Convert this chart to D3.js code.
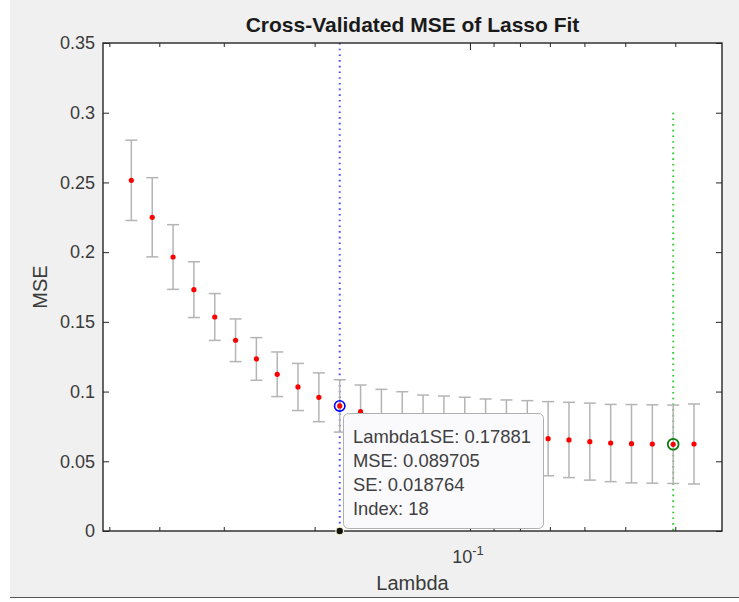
<!DOCTYPE html>
<html>
<head>
<meta charset="utf-8">
<script src="https://cdn.jsdelivr.net/npm/d3@7"></script>
<style>
  body { margin: 0; background: #fff; }
  svg { display: block; font-family: "Liberation Sans", Arial, sans-serif; }
</style>
</head>
<body>
<svg id="chart" width="739" height="602"></svg>
<script>
// lambda values, index 1..28 (ascending)
const lambdas = [0.03679, 0.04037, 0.04431, 0.04863, 0.05337, 0.05857, 0.06428, 0.07055,
  0.07742, 0.08497, 0.09325, 0.10234, 0.11231, 0.12326, 0.13527, 0.14846, 0.16293, 0.17881,
  0.19627, 0.21544, 0.23634, 0.25938, 0.28464, 0.31235, 0.34281, 0.37622, 0.41286, 0.45320];
const mse = [0.0624, 0.0622, 0.0624, 0.0626, 0.0631, 0.0641, 0.0653, 0.0662,
  0.0673, 0.0686, 0.0700, 0.0718, 0.0740, 0.0762, 0.0790, 0.0820, 0.0856, 0.089705,
  0.0959, 0.1033, 0.1124, 0.1234, 0.1368, 0.1535, 0.1731, 0.1965, 0.2250, 0.2515];
const se = [0.0287, 0.0281, 0.0281, 0.0281, 0.0277, 0.0276, 0.0270, 0.0266,
  0.0262, 0.0254, 0.0247, 0.0241, 0.0228, 0.0213, 0.0209, 0.0196, 0.0191, 0.018764,
  0.0175, 0.0169, 0.0160, 0.0153, 0.0153, 0.0168, 0.0200, 0.0232, 0.0284, 0.0288];

const idx1SE = 18;
const idxMin = 2;
const yTicks = [0, 0.05, 0.1, 0.15, 0.2, 0.25, 0.3, 0.35];
const xMinorTicks = [0.04, 0.05, 0.06, 0.07, 0.08, 0.09, 0.2, 0.3, 0.4, 0.5];
const xMajorTicks = [0.1];
const tipLines = ["Lambda1SE: 0.17881", "MSE: 0.089705", "SE: 0.018764", "Index: 18"];

const svg = d3.select("#chart");
const W = 739, H = 602;
const m = {left: 103, right: 722, top: 43, bottom: 531};
const axCol = "#262626";
const txtCol = "#3a3a3a";

// figure background
svg.append("rect").attr("x", 10).attr("y", 0).attr("width", W - 10).attr("height", 597)
  .attr("fill", "#f0f0f0");
svg.append("line").attr("x1", 10).attr("x2", W).attr("y1", 597.5).attr("y2", 597.5)
  .attr("stroke", "#555").attr("stroke-width", 1.2);

const x = d3.scaleLog().domain([0.5143, 0.03247]).range([m.left, m.right]);
const y = d3.scaleLinear().domain([0, 0.35]).range([m.bottom, m.top]);

svg.append("rect").attr("x", m.left).attr("y", m.top)
  .attr("width", m.right - m.left).attr("height", m.bottom - m.top).attr("fill", "#fff");

// ticks (inward, mirrored)
const tickStyle = g => {
  g.select(".domain").remove();
  g.selectAll("line").attr("stroke", axCol).attr("stroke-width", 1);
};
svg.append("g").attr("transform", `translate(${m.left},0)`)
  .call(d3.axisLeft(y).tickValues(yTicks).tickSize(-6).tickPadding(8)
    .tickFormat(d => d3.format("")(+d.toFixed(2))))
  .call(tickStyle)
  .call(g => g.selectAll("text").attr("fill", txtCol).attr("font-size", 18)
    .attr("font-family", "Liberation Sans, Arial, sans-serif"));
svg.append("g").attr("transform", `translate(${m.right},0)`)
  .call(d3.axisRight(y).tickValues(yTicks).tickSize(-6).tickFormat(""))
  .call(tickStyle);
[[d3.axisBottom, m.bottom], [d3.axisTop, m.top]].forEach(([ax, yy]) => {
  svg.append("g").attr("transform", `translate(0,${yy})`)
    .call(ax(x).tickValues(xMinorTicks).tickSize(-4).tickFormat(""))
    .call(tickStyle);
  svg.append("g").attr("transform", `translate(0,${yy})`)
    .call(ax(x).tickValues(xMajorTicks).tickSize(-7).tickFormat(""))
    .call(tickStyle);
});

// 10^-1 label
xMajorTicks.forEach(v => {
  const t = svg.append("text").attr("x", x(v) - 2).attr("y", 563)
    .attr("text-anchor", "middle").attr("fill", txtCol).attr("font-size", 18);
  t.append("tspan").text("10");
  t.append("tspan").attr("dy", -8).attr("font-size", 13).text("-1");
});

// vertical reference lines
svg.append("line")
  .attr("x1", x(lambdas[idx1SE - 1])).attr("x2", x(lambdas[idx1SE - 1]))
  .attr("y1", y(0.35)).attr("y2", y(0))
  .attr("stroke", "#4d4dff").attr("stroke-width", 2).attr("stroke-dasharray", "1.6,4.1");
svg.append("line")
  .attr("x1", x(lambdas[idxMin - 1])).attr("x2", x(lambdas[idxMin - 1]))
  .attr("y1", y(0.3)).attr("y2", y(0))
  .attr("stroke", "#33cc33").attr("stroke-width", 2).attr("stroke-dasharray", "1.6,4.1");

const pts = lambdas.map((l, i) => ({l: l, m: mse[i], s: se[i]}));

// error bars
const eb = svg.append("g").attr("stroke", "#b4b4b4").attr("stroke-width", 1.5);
pts.forEach(d => {
  const cx = x(d.l);
  eb.append("line").attr("x1", cx).attr("x2", cx).attr("y1", y(d.m - d.s)).attr("y2", y(d.m + d.s));
  eb.append("line").attr("x1", cx - 6).attr("x2", cx + 6).attr("y1", y(d.m - d.s)).attr("y2", y(d.m - d.s));
  eb.append("line").attr("x1", cx - 6).attr("x2", cx + 6).attr("y1", y(d.m + d.s)).attr("y2", y(d.m + d.s));
});

svg.append("g").selectAll("circle").data(pts).join("circle")
  .attr("cx", d => x(d.l)).attr("cy", d => y(d.m)).attr("r", 2.6).attr("fill", "#ff0000");

// highlighted points
svg.append("circle").attr("cx", x(lambdas[idx1SE - 1])).attr("cy", y(mse[idx1SE - 1]))
  .attr("r", 5.2).attr("fill", "none").attr("stroke", "#0000ff").attr("stroke-width", 1.6);
svg.append("circle").attr("cx", x(lambdas[idxMin - 1])).attr("cy", y(mse[idxMin - 1]))
  .attr("r", 5.4).attr("fill", "none").attr("stroke", "#107a10").attr("stroke-width", 1.8);

// axes box
svg.append("rect").attr("x", m.left).attr("y", m.top)
  .attr("width", m.right - m.left).attr("height", m.bottom - m.top)
  .attr("fill", "none").attr("stroke", axCol).attr("stroke-width", 1.4);

// datatip
const tip = svg.append("g");
tip.append("rect").attr("x", 343.5).attr("y", 413.5).attr("width", 200).attr("height", 115)
  .attr("rx", 5).attr("fill", "#fafafd").attr("stroke", "#b0b0b0").attr("stroke-width", 1);
tip.selectAll("text").data(tipLines).join("text")
  .attr("x", 353).attr("y", (d, i) => 443 + i * 24.1)
  .attr("fill", "#404040").attr("font-size", 18.4).text(d => d);
svg.append("circle").attr("cx", x(lambdas[idx1SE - 1])).attr("cy", y(0)).attr("r", 3.8)
  .attr("fill", "#111").attr("stroke", "#f6f3c8").attr("stroke-width", 1.2);

// title and labels
svg.append("text").attr("x", (m.left + m.right) / 2).attr("y", 31.5)
  .attr("text-anchor", "middle").attr("font-weight", "bold").attr("font-size", 21)
  .attr("fill", "#1a1a1a").text("Cross-Validated MSE of Lasso Fit");
svg.append("text").attr("x", (m.left + m.right) / 2).attr("y", 590)
  .attr("text-anchor", "middle").attr("font-size", 20).attr("fill", txtCol).text("Lambda");
svg.append("text").attr("transform", `translate(47,${(m.top + m.bottom) / 2}) rotate(-90)`)
  .attr("text-anchor", "middle").attr("font-size", 20).attr("fill", txtCol).text("MSE");
</script>
</body>
</html>
